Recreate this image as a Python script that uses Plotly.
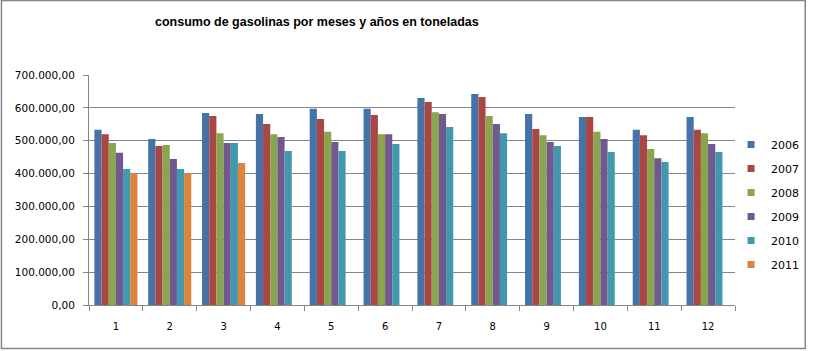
import plotly.graph_objects as go

months = ["1", "2", "3", "4", "5", "6", "7", "8", "9", "10", "11", "12"]
years = ["2006", "2007", "2008", "2009", "2010", "2011"]

v2006 = [533000, 505000, 584000, 581000, 597000, 597000, 630000, 642000, 581000, 572000, 533000, 572000]
v2007 = [520000, 484000, 575000, 551000, 566000, 578000, 618000, 633000, 536000, 572000, 517000, 533000]
v2008 = [493000, 487000, 523000, 520000, 527000, 520000, 587000, 575000, 517000, 527000, 475000, 523000]
v2009 = [463000, 444000, 493000, 511000, 496000, 520000, 581000, 551000, 496000, 505000, 447000, 490000]
v2010 = [414000, 414000, 493000, 469000, 469000, 490000, 542000, 523000, 484000, 466000, 435000, 466000]
v2011 = [401000, 400000, 432000, None, None, None, None, None, None, None, None, None]

series = [v2006, v2007, v2008, v2009, v2010, v2011]
colors = ["#4572A7", "#AA4643", "#89A54E", "#71588F", "#4198AF", "#DB843D"]

fig = go.Figure()
for name, vals, col in zip(years, series, colors):
    fig.add_trace(go.Bar(x=months, y=vals, name=name, marker_color=col,
                         marker_line_width=0, legendgroup=name, showlegend=False))
for name, col in zip(years, colors):
    fig.add_trace(go.Scatter(x=[None], y=[None], mode="markers", name=name,
                             marker=dict(symbol="square", size=7, color=col),
                             legendgroup=name, showlegend=True))

L, R, T, B = 89, 74, 75, 46
W, H = 816, 351
pw, ph = W - L - R, H - T - B

fig.update_layout(
    width=W, height=H,
    margin=dict(l=L, r=R, t=T, b=B, pad=0),
    paper_bgcolor="white", plot_bgcolor="white",
    separators=",.",
    bargap=0.2, bargroupgap=0,
    title=dict(text="<b>consumo de gasolinas por meses y años en toneladas</b>",
               x=155 / W, xanchor="left", y=1 - 22 / H, yanchor="middle",
               font=dict(family="Liberation Sans, Arial", size=12.5, color="black")),
    font=dict(family="DejaVu Sans, Verdana", size=10, color="black"),
    legend=dict(x=(738 - L) / pw, xanchor="left", y=1 - (130 - T) / ph, yanchor="top",
                font=dict(size=11), traceorder="grouped", tracegroupgap=5,
                bgcolor="rgba(0,0,0,0)", itemwidth=30),
    xaxis=dict(type="category", showline=True, linecolor="#868686", linewidth=1,
               ticks="outside", tickson="boundaries", ticklen=5, tickcolor="#868686",
               showgrid=False, tickfont=dict(size=10), ticklabelstandoff=12),
    yaxis=dict(range=[0, 700000], dtick=100000, tickformat=",.2f",
               showline=True, linecolor="#868686", linewidth=1,
               ticks="outside", ticklen=5, tickcolor="#868686",
               showgrid=True, gridcolor="#868686", gridwidth=1,
               zeroline=False, tickfont=dict(size=10.5), ticklabelstandoff=6),
    shapes=[dict(type="rect", xref="paper", yref="paper",
                 x0=(-L + 0.5) / pw, x1=(813 - L) / pw,
                 y0=-(348.5 - T - ph) / ph, y1=(ph + T - 0.5) / ph,
                 line=dict(color="#868686", width=1.5), layer="below")],
)

fig.write_html("out.html")
